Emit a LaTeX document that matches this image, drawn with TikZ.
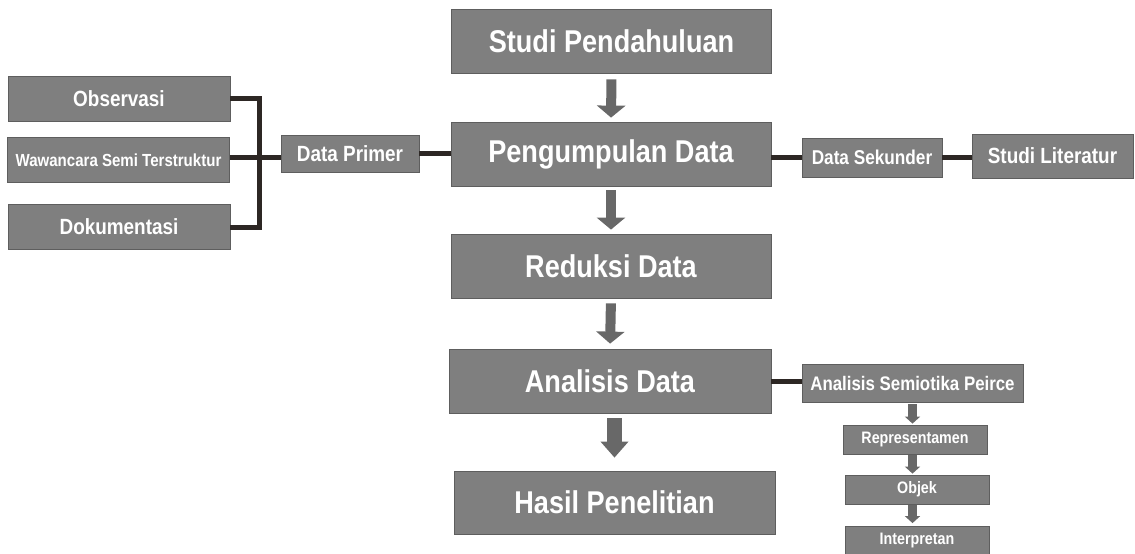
\documentclass[tikz,border=0pt]{standalone}
\usepackage{fontspec}
\setmainfont{Liberation Sans}[FakeStretch=0.86]
\usepackage{xcolor}
\usetikzlibrary{arrows.meta}

\definecolor{boxgray}{HTML}{7F7F7F}
\definecolor{boxline}{HTML}{5E5E5E}
\definecolor{arrgray}{HTML}{686868}
\definecolor{linkdark}{HTML}{2D2724}

\newcommand{\fsz}[1]{\fontsize{#1}{#1}\selectfont}

\begin{document}
\begin{tikzpicture}[
  x = 1pt, y = -1pt,
  every node/.style = {fill = boxgray, draw = boxline, line width = 0.8pt,
                       text = white, font = \bfseries, inner sep = 0pt},
  bigbox/.style = {minimum width = 320pt, minimum height = 64pt, font = \bfseries\fsz{31.5}},
  midbox/.style = {minimum width = 222pt, minimum height = 45pt, font = \bfseries\fsz{22}},
  smallbox/.style = {minimum width = 144pt, minimum height = 29pt, font = \bfseries\fsz{16.6}},
  link/.style = {draw = linkdark, line width = 5pt},
  flow/.style = {draw = arrgray, line width = 10pt, -{Triangle[width = 28pt, length = 12pt]}},
  flowwide/.style = {draw = arrgray, line width = 15pt, -{Triangle[width = 27pt, length = 16pt]}},
  flowsmall/.style = {draw = arrgray, line width = 9pt, -{Triangle[width = 15pt, length = 7pt]}}
  ]
  \useasboundingbox (0,0) rectangle (1135,554);

  \node[bigbox] (studi) at (611.5,41) {Studi Pendahuluan};
  \node[bigbox] (kumpul) at (611,154) {Pengumpulan Data};
  \node[bigbox] (reduksi) at (611,266) {Reduksi Data};
  \node[bigbox, minimum width = 322pt] (analisis) at (610,381) {Analisis Data};
  \node[bigbox, minimum width = 321pt, minimum height = 63pt] (hasil) at (614.5,502.5) {Hasil Penelitian};

  \node[midbox] (observasi) at (119,98.5) {Observasi};
  \node[midbox, font = \bfseries\fsz{17.5}] (wawancara) at (118.5,160) {Wawancara Semi Terstruktur};
  \node[midbox] (dokumentasi) at (119,227) {Dokumentasi};
  \node[midbox, minimum width = 138pt, minimum height = 37pt] (primer) at (350,153.5) {Data Primer};

  \node[midbox, minimum width = 140pt, minimum height = 39pt, font = \bfseries\fsz{20}] (sekunder) at (872,157.5) {Data Sekunder};
  \node[midbox, minimum width = 161pt, minimum height = 44pt] (literatur) at (1052.5,156) {Studi Literatur};

  \node[midbox, minimum width = 221pt, minimum height = 38pt, font = \bfseries\fsz{19.6}] (peirce) at (912.5,383) {Analisis Semiotika Peirce};
  \node[smallbox] (represent) at (915,439.5) {Representamen};
  \node[smallbox] (objek) at (917,489.5) {Objek};
  \node[smallbox] (interpretan) at (917,541) {Interpretan};

  \coordinate (brace) at (259,157);

  \draw[link] (observasi.east) -| (brace) |- (dokumentasi.east);
  \draw[link] (wawancara.east |- brace) -- (primer.west |- brace);
  \draw[link] (primer.east) -- (primer.east -| kumpul.west);
  \draw[link] (kumpul.east |- sekunder.west) -- (sekunder.west);
  \draw[link] (sekunder.east) -- (sekunder.east -| literatur.west);
  \draw[link] (analisis.east) -- (analisis.east -| peirce.west);

  \draw[flow, shorten <= 6pt, shorten >= 4pt] (studi.south) -- (kumpul.north);
  \draw[flow, shorten <= 4pt, shorten >= 4pt] (kumpul.south) -- (reduksi.north);
  \draw[flow, shorten <= 5pt, shorten >= 5pt] (reduksi.south) -- (analisis.north);
  \draw[flowwide, shorten <= 5pt, shorten >= 13pt] (hasil.north |- analisis.south) -- (hasil.north);

  \draw[flowsmall, shorten <= 2pt, shorten >= 1pt] (peirce.south) -- (peirce.south |- represent.north);
  \draw[flowsmall, shorten <= 1pt, shorten >= 1pt] (peirce.south |- represent.south) -- (peirce.south |- objek.north);
  \draw[flowsmall, shorten <= 1pt, shorten >= 3pt] (peirce.south |- objek.south) -- (peirce.south |- interpretan.north);
\end{tikzpicture}
\end{document}
